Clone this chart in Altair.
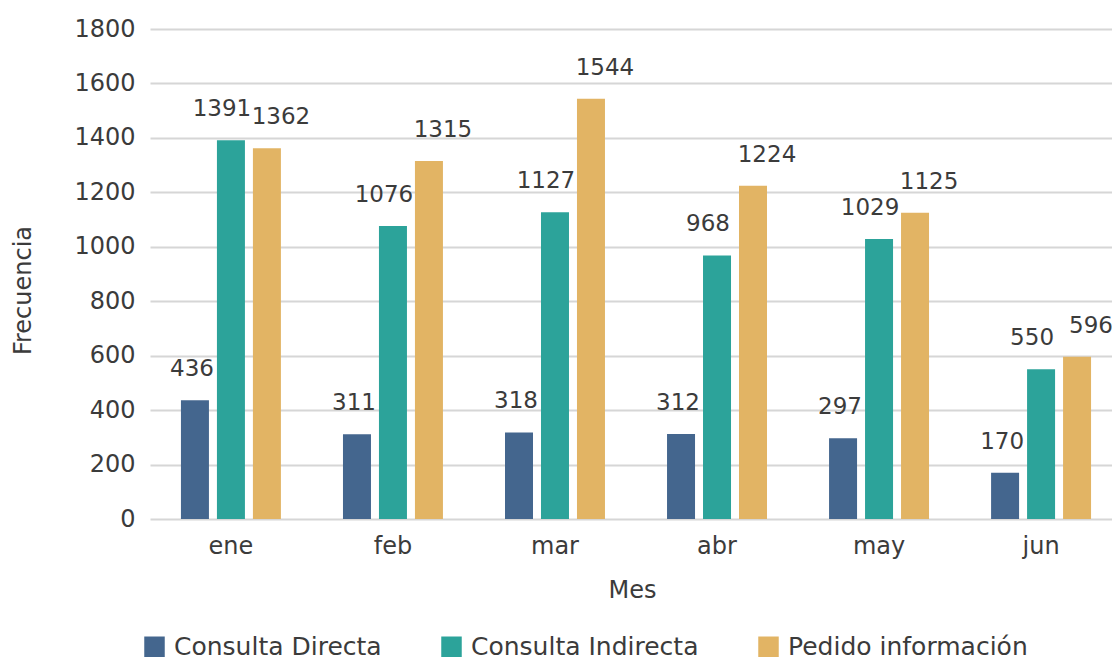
import altair as alt
import pandas as pd

meses = ["ene", "feb", "mar", "abr", "may", "jun"]
series = ["Consulta Directa", "Consulta Indirecta", "Pedido información"]
directa = [436, 311, 318, 312, 297, 170]
indirecta = [1391, 1076, 1127, 968, 1029, 550]
pedido = [1362, 1315, 1544, 1224, 1125, 596]
colores = ["#44668e", "#2ca39a", "#e2b464"]
yticks = [0, 200, 400, 600, 800, 1000, 1200, 1400, 1600, 1800]

rows = []
for s, vals in zip(series, [directa, indirecta, pedido]):
    for m, v in zip(meses, vals):
        rows.append({"Mes": m, "Serie": s, "Frecuencia": v})
df = pd.DataFrame(rows)

FONT = "DejaVu Sans"
TXT = "#3b3b3b"
GRID = "#d6d6d6"

x = alt.X(
    "Mes:N", sort=meses,
    scale=alt.Scale(domain=meses, range=[0, 972], paddingInner=0.383, paddingOuter=0.191),
    axis=alt.Axis(title="Mes", labelAngle=0, labelPadding=15, ticks=False, domain=False,
                  titleY=78, titleX=482, titleBaseline="alphabetic"),
)
xo = alt.XOffset("Serie:N", sort=series,
                 scale=alt.Scale(domain=series, paddingInner=0.222, paddingOuter=0))
y = alt.Y(
    "Frecuencia:Q", scale=alt.Scale(domain=[0, 1800]),
    axis=alt.Axis(title="Frecuencia", values=yticks, format="d", ticks=False, domain=False,
                  labelPadding=15, titleX=-115, titleY=261, titleAlign="center"),
)
color = alt.Color(
    "Serie:N", sort=series,
    scale=alt.Scale(domain=series, range=colores),
    legend=alt.Legend(title=None, orient="none", legendX=-8, legendY=605,
                      direction="horizontal", symbolType="square", symbolSize=420,
                      symbolStrokeWidth=0, labelFontSize=25, labelFont=FONT,
                      labelColor=TXT, labelOffset=7, columnPadding=57, labelLimit=0),
)

base = alt.Chart(df)
bars = base.mark_bar().encode(x=x, xOffset=xo, y=y, color=color)

offsets = {"Consulta Directa": -3, "Consulta Indirecta": -9, "Pedido información": 14}
layers = [bars]
for s in series:
    t = base.transform_filter(alt.datum.Serie == s).mark_text(
        dx=offsets[s], dy=-24, baseline="alphabetic", align="center",
        fontSize=23, font=FONT, color=TXT
    ).encode(x=x, xOffset=xo, y=y, text="Frecuencia:Q")
    layers.append(t)

chart = alt.layer(*layers).properties(
    width=962, height=490,
    autosize=alt.AutoSizeParams(type="none"),
    padding={"left": 150, "top": 29, "right": 0, "bottom": 143},
).configure_view(stroke=None).configure_axis(
    labelFont=FONT, titleFont=FONT, labelFontSize=24, titleFontSize=24,
    labelColor=TXT, titleColor=TXT, titleFontWeight="normal",
    gridColor=GRID, gridWidth=2,
).configure_axisX(grid=False)

chart.save("out.html", embed_options={"renderer": "svg", "actions": False})
